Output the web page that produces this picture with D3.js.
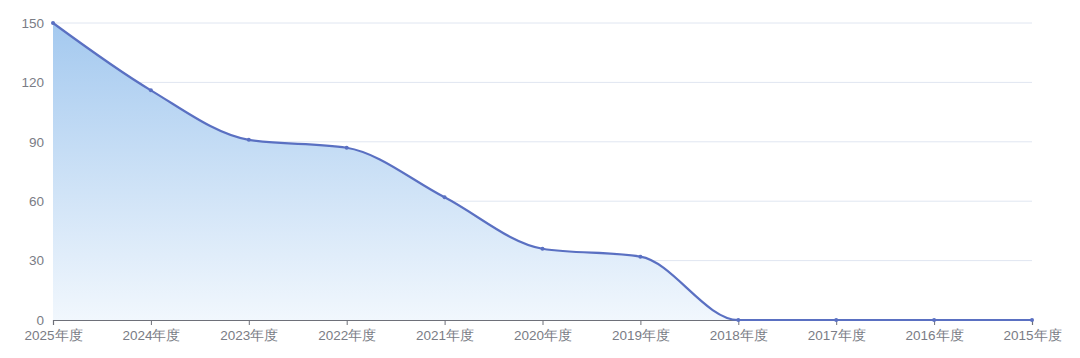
<!DOCTYPE html>
<html>
<head>
<meta charset="utf-8">
<script src="https://cdn.jsdelivr.net/npm/d3@7"></script>
<style>
  body { margin: 0; background: #fff; }
  svg { display: block; font-family: "Noto Sans CJK SC", "Noto Sans", sans-serif; }
</style>
</head>
<body>
<div id="chart"></div>
<script>
// categories along the x axis (newest first)
const years = ['2025年度', '2024年度', '2023年度', '2022年度', '2021年度', '2020年度',
  '2019年度', '2018年度', '2017年度', '2016年度', '2015年度'];
// values
const counts = [150, 116, 91, 87, 62, 36, 32, 0, 0, 0, 0];
const yTicks = [0, 30, 60, 90, 120, 150];

const W = 1080, H = 358;
const margin = { top: 23, right: 48, bottom: 38, left: 53 };
const width = W - margin.left - margin.right;
const height = H - margin.top - margin.bottom;

const svg = d3.select('#chart').append('svg')
  .attr('width', W)
  .attr('height', H);

const defs = svg.append('defs');
const grad = defs.append('linearGradient')
  .attr('id', 'areaFill')
  .attr('x1', 0).attr('y1', 0).attr('x2', 0).attr('y2', 1);
grad.append('stop').attr('offset', '0%').attr('stop-color', '#a4c9ef');
grad.append('stop').attr('offset', '100%').attr('stop-color', '#f1f7fd');

const g = svg.append('g')
  .attr('transform', `translate(${margin.left},${margin.top})`);

const x = d3.scalePoint()
  .domain(years)
  .range([0, width]);

const y = d3.scaleLinear()
  .domain([0, 150])
  .range([height, 0]);

const data = years.map((yr, i) => ({ yr, v: counts[i] }));

// grid lines
g.append('g')
  .selectAll('line')
  .data(yTicks.filter(t => t > 0))
  .enter()
  .append('line')
  .attr('x1', 0).attr('x2', width)
  .attr('y1', d => y(d)).attr('y2', d => y(d))
  .attr('stroke', '#e0e6f1')
  .attr('stroke-width', 1);

// area under the curve
const area = d3.area()
  .x(d => x(d.yr))
  .y0(height)
  .y1(d => y(d.v))
  .curve(d3.curveMonotoneX);

g.append('path')
  .datum(data)
  .attr('d', area)
  .attr('fill', 'url(#areaFill)');

// y axis labels only
const yAxis = g.append('g')
  .call(d3.axisLeft(y).tickValues(yTicks).tickSize(0).tickPadding(9));
yAxis.select('.domain').remove();
yAxis.selectAll('text')
  .attr('fill', '#7a7c85')
  .style('font-size', '13.5px');

// x axis
const xAxis = g.append('g')
  .attr('transform', `translate(0,${height})`)
  .call(d3.axisBottom(x).tickSize(5).tickPadding(5));
xAxis.select('.domain').attr('stroke', '#6e7079').attr('stroke-width', 1.2);
xAxis.selectAll('.tick line').attr('stroke', '#6e7079');
xAxis.selectAll('text')
  .attr('fill', '#7a7c85')
  .style('font-size', '13.5px');

// line
const line = d3.line()
  .x(d => x(d.yr))
  .y(d => y(d.v))
  .curve(d3.curveMonotoneX);

g.append('path')
  .datum(data)
  .attr('d', line)
  .attr('fill', 'none')
  .attr('stroke', '#5a70c2')
  .attr('stroke-width', 2.2);

// point markers
g.append('g')
  .selectAll('circle')
  .data(data)
  .enter()
  .append('circle')
  .attr('cx', d => x(d.yr))
  .attr('cy', d => y(d.v))
  .attr('r', 2)
  .attr('fill', '#5a70c2');
</script>
</body>
</html>
